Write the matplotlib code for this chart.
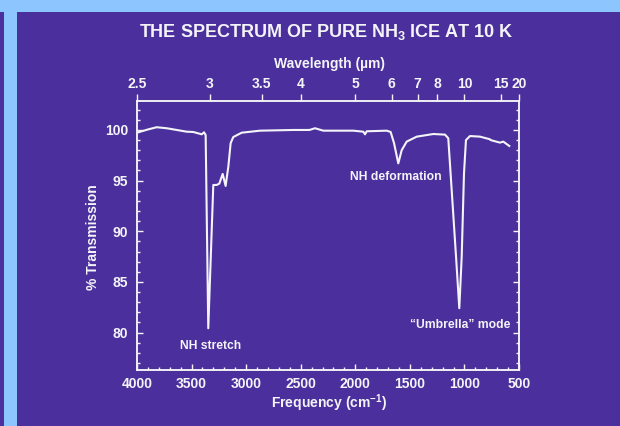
import matplotlib
matplotlib.use("Agg")
import matplotlib.pyplot as plt
from matplotlib.patches import Rectangle
from matplotlib.ticker import MultipleLocator, FixedLocator

# ---- data ----
frequency = [4000, 3900, 3820, 3728, 3636, 3545, 3484, 3407, 3386, 3371,
             3347, 3301, 3270, 3246, 3215, 3188, 3163, 3142, 3118, 3041,
             2873, 2568, 2420, 2369, 2293, 2100, 2018, 1927, 1911, 1895,
             1712, 1676, 1645, 1606, 1575, 1529, 1437, 1285, 1178, 1148,
             1117, 1077, 1047, 1025, 1004, 986, 949, 857, 766, 760,
             674, 644, 589]
transmission = [99.73, 100.05, 100.27, 100.17, 100.0, 99.83, 99.8, 99.57, 99.77, 99.5,
                80.42, 94.57, 94.57, 94.7, 95.66, 94.47, 96.4, 98.7, 99.3, 99.73,
                99.93, 100.0, 100.0, 100.17, 99.93, 99.93, 99.93, 99.83, 99.57, 99.87,
                99.93, 99.8, 98.7, 96.7, 98.0, 98.85, 99.34, 99.6, 99.54, 99.18,
                94.1, 87.5, 82.4, 87.5, 95.7, 99.0, 99.4, 99.34, 99.08, 99.0,
                98.75, 98.85, 98.42]

wavelength_ticks = [2.5, 3, 3.5, 4, 5, 6, 7, 8, 10, 15, 20]
wavelength_labels = ["2.5", "3", "3.5", "4", "5", "6", "7", "8", "10", "15", "20"]
freq_ticks = [4000, 3500, 3000, 2500, 2000, 1500, 1000, 500]
trans_ticks = [80, 85, 90, 95, 100]

annotations = ["NH stretch", "NH deformation", "\u201cUmbrella\u201d mode"]
annotation_freq = [3327, 1633, 1036]
annotation_trans = [78.68, 95.33, 80.75]

# ---- style ----
W, H = 620, 426
PURPLE = "#4b309d"
LIGHT = "#8dc6ff"
WHITE = "#f4f4f8"

plt.rcParams['font.family'] = ['Liberation Sans', 'DejaVu Sans']
plt.rcParams['font.weight'] = 'bold'
plt.rcParams['mathtext.fontset'] = 'custom'
plt.rcParams['mathtext.rm'] = 'Liberation Sans:bold'
plt.rcParams['mathtext.it'] = 'Liberation Sans:bold'
plt.rcParams['mathtext.bf'] = 'Liberation Sans:bold'

fig = plt.figure(figsize=(W / 100, H / 100), dpi=100, facecolor=PURPLE)

def fx(px):
    return px / W

def fy(py):
    return 1 - py / H

# light-blue frame strips
fig.patches.append(Rectangle((0, fy(12)), 1, 12 / H, transform=fig.transFigure,
                             facecolor=LIGHT, edgecolor='none', zorder=1))
fig.patches.append(Rectangle((fx(4), 0), 13 / W, fy(12), transform=fig.transFigure,
                             facecolor=LIGHT, edgecolor='none', zorder=1))

left, right, top, bottom = 137, 519, 101, 370
ax = fig.add_axes([fx(left), fy(bottom), (right - left) / W, (bottom - top) / H])
ax.set_facecolor(PURPLE)

ax.plot(frequency, transmission, color=WHITE, lw=1.5, solid_joinstyle='round')

ax.set_xlim(4000, 500)
ax.set_ylim(76.3, 102.86)

ax.xaxis.set_major_locator(FixedLocator(freq_ticks))
ax.xaxis.set_minor_locator(MultipleLocator(100))
ax.yaxis.set_major_locator(FixedLocator(trans_ticks))
ax.yaxis.set_minor_locator(MultipleLocator(1))

for s in ax.spines.values():
    s.set_color(WHITE)
    s.set_linewidth(1.1)

ax.tick_params(axis='x', which='both', direction='in', top=True, bottom=True,
               colors=WHITE, labelsize=10, pad=5, width=1.0)
ax.tick_params(axis='x', which='major', length=4.3)
ax.tick_params(axis='x', which='minor', length=2.2)
ax.tick_params(axis='y', which='both', direction='in', left=True, right=True,
               colors=WHITE, labelsize=10, pad=6.5, width=1.0)
ax.tick_params(axis='y', which='major', length=4.3)
ax.tick_params(axis='y', which='minor', length=2.3)
for lbl in ax.get_xticklabels() + ax.get_yticklabels():
    lbl.set_fontweight('bold')

# top wavelength axis
ax2 = ax.twiny()
ax2.set_xlim(ax.get_xlim())
ax2.xaxis.set_major_locator(FixedLocator([10000.0 / w for w in wavelength_ticks]))
ax2.set_xticklabels(wavelength_labels)
ax2.xaxis.set_minor_locator(FixedLocator([]))
ax2.tick_params(axis='x', which='major', direction='out', length=5, width=1.0,
                colors=WHITE, labelsize=10, pad=2.5)
for s in ax2.spines.values():
    s.set_color(WHITE)
    s.set_linewidth(1.1)

for txt, f, t in zip(annotations, annotation_freq, annotation_trans):
    ax.text(f, t, txt, color=WHITE, fontsize=8.7, fontweight='bold',
            ha='center', va='center')

# titles and axis labels
fig.text(fx(326), fy(32), "THE SPECTRUM OF PURE NH$_3$ ICE AT 10 K", color=WHITE,
         fontsize=13, fontweight='bold', ha='center', va='center')
fig.text(fx(329), fy(64), "Wavelength (\u00b5m)", color=WHITE, fontsize=10,
         fontweight='bold', ha='center', va='center')
fig.text(fx(329), fy(403), "Frequency (cm$^{-1}$)", color=WHITE, fontsize=10,
         fontweight='bold', ha='center', va='center')
fig.text(fx(93), fy(237), "% Transmission", color=WHITE, fontsize=10,
         fontweight='bold', ha='center', va='center', rotation=90)

fig.savefig("out.png", dpi=100, facecolor=PURPLE)
